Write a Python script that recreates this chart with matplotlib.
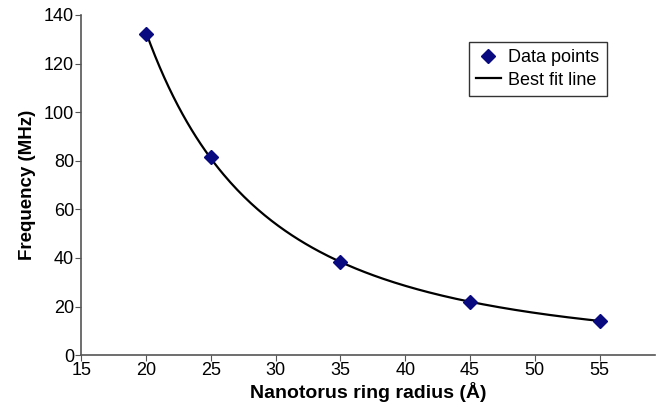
import numpy as np
import matplotlib
matplotlib.use('Agg')
import matplotlib.pyplot as plt

plt.rcParams['font.family'] = ['Liberation Sans', 'DejaVu Sans']

radius = [20, 25, 35, 45, 55]
freq = [132, 81.5, 38.5, 22, 14]

# power-law best fit through the data points
b, log_a = np.polyfit(np.log(radius), np.log(freq), 1)
xs = np.linspace(min(radius), max(radius), 200)
ys = np.exp(log_a) * xs ** b

fig = plt.figure(figsize=(6.6, 4.04), dpi=100)
ax = fig.add_axes([0.123, 0.121, 0.87, 0.842])

ax.plot(xs, ys, color='black', linewidth=1.6, label='Best fit line', zorder=2)
ax.plot(radius, freq, linestyle='none', marker='D', markersize=7,
        color='#0a0a80', label='Data points', zorder=3)

ax.set_xlim(15, 59.3)
ax.set_ylim(0, 140)
ax.set_xticks(range(15, 60, 5))
ax.set_yticks(range(0, 141, 20))
ax.spines['top'].set_visible(False)
ax.spines['right'].set_visible(False)
for sp in ['left', 'bottom']:
    ax.spines[sp].set_color('#555555')
    ax.spines[sp].set_linewidth(1.2)
ax.tick_params(direction='out', length=4, color='#555555', labelsize=13, pad=1)

ax.set_xlabel('Nanotorus ring radius (Å)', fontsize=14, fontweight='bold', labelpad=2)
ax.set_ylabel('Frequency (MHz)', fontsize=13.5, fontweight='bold', labelpad=6)

handles, labels = ax.get_legend_handles_labels()
leg = ax.legend(handles[::-1], labels[::-1], loc='upper right',
                bbox_to_anchor=(0.915, 0.92), fontsize=13, frameon=True,
                fancybox=False, edgecolor='black', handlelength=1.4,
                handletextpad=0.4, borderpad=0.4, labelspacing=0.3,
                borderaxespad=0)
leg.get_frame().set_linewidth(1.0)

fig.savefig('out.png', dpi=100)
